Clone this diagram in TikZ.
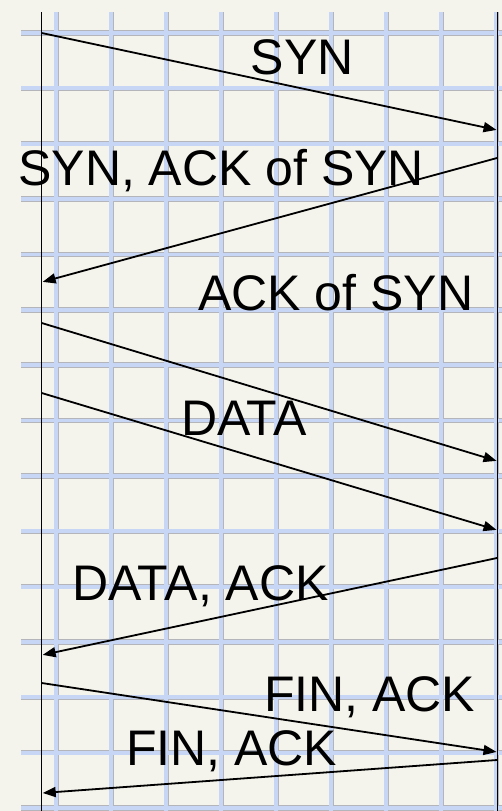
\documentclass[tikz,border=0pt]{standalone}
\usepackage{fontspec}
\setmainfont{Liberation Sans}
\usetikzlibrary{arrows.meta}

\definecolor{paper}{HTML}{F4F3EC}
\definecolor{gridblue}{HTML}{C8D6F6}
\definecolor{gridedge}{HTML}{B4B5BA}

\tikzset{
  gridline/.style={line width=5.4pt, draw=gridedge},
  gridfill/.style={line width=3.8pt, draw=gridblue},
  lifeline/.style={draw=black, line width=1.4pt},
  msg/.style={draw=black, line width=1.8pt, -{Triangle[length=13pt,width=10pt]}, shorten >=0.5pt},
  lbl/.style={anchor=base west, inner sep=0pt, text=black,
              font=\fontsize{50}{50}\selectfont}
}

\begin{document}
\begin{tikzpicture}[x=1pt, y=-1pt]
  % paper and frame of the picture
  \fill[paper] (0,0) rectangle (502,811);
  \useasboundingbox (0,0) rectangle (502,811);

  % squared paper: grey-edged blue rules
  \foreach \k in {0,...,14} {
    \pgfmathsetmacro{\yy}{33+55.36*\k}
    \draw[gridline] (21,\yy) -- (502,\yy);
  }
  \foreach \k in {0,...,8} {
    \pgfmathsetmacro{\xx}{56.3+55*\k}
    \draw[gridline] (\xx,12) -- (\xx,811);
  }
  \foreach \k in {0,...,14} {
    \pgfmathsetmacro{\yy}{33+55.36*\k}
    \draw[gridfill] (21,\yy) -- (502,\yy);
  }
  \foreach \k in {0,...,8} {
    \pgfmathsetmacro{\xx}{56.3+55*\k}
    \draw[gridfill] (\xx,12) -- (\xx,811);
  }

  % the two hosts' time lines
  \coordinate (ltop) at (41.7,12);
  \coordinate (lbot) at (41.7,811);
  \coordinate (rtop) at (497.6,12);
  \coordinate (rbot) at (497.6,811);
  \draw[lifeline] (ltop) -- (lbot);
  \draw[lifeline, line width=1.7pt] (rtop) -- (rbot);

  % message end points on the time lines
  \coordinate (s1) at (41.7,33);   \coordinate (e1) at (497,130);
  \coordinate (s2) at (497,158);   \coordinate (e2) at (42.2,282);
  \coordinate (s3) at (41.7,323);  \coordinate (e3) at (497,461);
  \coordinate (s4) at (41.7,393);  \coordinate (e4) at (497,530);
  \coordinate (s5) at (497,558);   \coordinate (e5) at (42.2,655);
  \coordinate (s6) at (41.7,683);  \coordinate (e6) at (497,752);
  \coordinate (s7) at (497,760);   \coordinate (e7) at (42.2,793);

  \draw[msg] (s1) -- (e1);
  \draw[msg] (s2) -- (e2);
  \draw[msg] (s3) -- (e3);
  \draw[msg] (s4) -- (e4);
  \draw[msg] (s5) -- (e5);
  \draw[msg] (s6) -- (e6);
  \draw[msg] (s7) -- (e7);

  % segment labels
  \node[lbl] (t1) at (250.5,74)  {SYN};
  \node[lbl] (t2) at (18.2,185)  {SYN, ACK of SYN};
  \node[lbl] (t3) at (198,310)   {ACK of SYN};
  \node[lbl] (t4) at (181,435)   {DATA};
  \node[lbl] (t5) at (72,600.5)  {DATA, ACK};
  \node[lbl] (t6) at (264,711.5) {FIN, ACK};
  \node[lbl] (t7) at (126,765)   {FIN, ACK};
\end{tikzpicture}
\end{document}
